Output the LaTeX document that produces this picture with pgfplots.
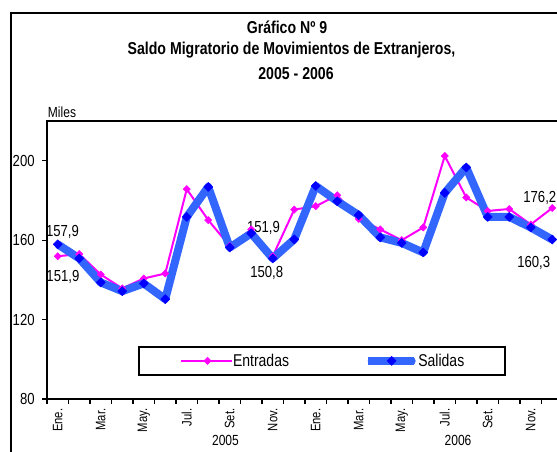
\documentclass[border=0pt]{standalone}
\usepackage{fontspec}
\setmainfont[FakeStretch=0.82]{Liberation Sans}
\usepackage{pgfplots}
\pgfplotsset{compat=1.18}
\definecolor{entr}{RGB}{255,0,255}
\definecolor{salline}{RGB}{51,102,255}
\definecolor{salmark}{RGB}{0,0,255}
\pgfplotsset{
  entrleg/.style={legend image code/.code={\path (0pt,0pt) -- (38.25pt,0pt);
    \draw[mark repeat=2,mark phase=2,##1] plot coordinates {(3pt,0pt)(19.9pt,0pt)(36.75pt,0pt)};}},
  salleg/.style={legend image code/.code={\path (0pt,0pt) -- (35pt,0pt);
    \draw[mark repeat=2,mark phase=2,line cap=round,##1] plot coordinates {(3pt,0pt)(18pt,0pt)(33pt,0pt)};}},
}
\begin{document}
\begin{tikzpicture}[x=0.75pt,y=-0.75pt]
\useasboundingbox (0,0) rectangle (557,451);
\clip (0,0) rectangle (557,451);
\fill[white] (0,0) rectangle (557,451);
\draw[line width=1.5pt] (11,13) rectangle (620,520);
\node[font=\bfseries\fontsize{12.9}{14}\selectfont] at (287,27) {Gráfico Nº 9};
\node[font=\bfseries\fontsize{12.9}{14}\selectfont] at (291.5,50) {Saldo Migratorio de Movimientos de Extranjeros,};
\node[font=\bfseries\fontsize{12.9}{14}\selectfont] at (296,74) {2005 - 2006};
\node[font=\fontsize{11}{12}\selectfont] at (62,112) {Miles};
\begin{axis}[
  at={(35.25pt,-299.25pt)}, anchor=south west,
  scale only axis, width=387pt, height=208.5pt,
  xmin=0.5, xmax=24.5, ymin=80, ymax=220,
  ytick={80,120,160,200},
  xtick={1,3,...,23},
  xticklabels={Ene.,Mar.,May.,Jul.,Set.,Nov.,Ene.,Mar.,May.,Jul.,Set.,Nov.},
  minor xtick={0.5,1.5,...,24.5},
  tick align=outside, tick pos=left,
  major tick length=3.75pt, minor tick length=3.75pt,
  every major x tick/.append style={draw=none},
  every tick/.append style={black, line width=0.8pt},
  axis line style={line width=1.3pt},
  ticklabel style={font=\fontsize{12}{13}\selectfont},
  xticklabel style={font=\fontsize{10.3}{11}\selectfont, rotate=90, anchor=east},
  yticklabel style={xshift=-2pt},
  /pgf/number format/assume math mode=true,
  clip=false,
  legend columns=2,
  legend style={at={(0.1764,0.1906)}, anchor=north west, draw=black, line width=1.5pt,
    fill=white, inner xsep=30.75pt, inner ysep=5pt,
    nodes={inner sep=0pt},
    font=\fontsize{12.8}{13}\selectfont,
    /tikz/every even column/.append style={column sep=56pt}},
]
\addplot[entr, line width=1.5pt, mark=square*, mark size=1.9pt,
  mark options={rotate=45, solid, line width=0.4pt, fill=entr, draw=entr}, entrleg]
coordinates {
(1,151.9)(2,153.0)(3,142.7)(4,135.7)(5,140.7)(6,143.2)(7,185.7)(8,170.1)(9,157.0)(10,165.4)(11,151.9)(12,175.4)
(13,177.1)(14,182.6)(15,170.7)(16,165.4)(17,160.0)(18,166.4)(19,202.4)(20,181.5)(21,174.7)(22,175.7)(23,167.9)(24,176.2)};
\addlegendentry{Entradas}
\addplot[salline, line width=6pt, line join=round, mark=square*, mark size=2.4pt,
  mark options={rotate=45, solid, line width=0.4pt, fill=salmark, draw=salmark}, salleg]
coordinates {
(1,157.9)(2,150.8)(3,138.7)(4,134.3)(5,138.2)(6,130.3)(7,171.7)(8,186.8)(9,156.3)(10,163.4)(11,150.8)(12,160.4)
(13,187.3)(14,179.6)(15,172.6)(16,161.4)(17,158.6)(18,153.8)(19,183.8)(20,196.6)(21,171.7)(22,171.7)(23,166.4)(24,160.3)};
\addlegendentry{Salidas}
\begin{scope}[font=\fontsize{12}{13}\selectfont]
\node at (axis cs:1.22,164.2) {157,9};
\node at (axis cs:1.24,141.4) {151,9};
\node at (axis cs:10.57,166.3) {151,9};
\node at (axis cs:10.72,143.4) {150,8};
\node at (axis cs:23.42,181.4) {176,2};
\node at (axis cs:23.14,148.7) {160,3};
\end{scope}
\end{axis}
\node[font=\fontsize{11}{12}\selectfont] at (225.5,440) {2005};
\node[font=\fontsize{11}{12}\selectfont] at (458,440) {2006};
\end{tikzpicture}
\end{document}
